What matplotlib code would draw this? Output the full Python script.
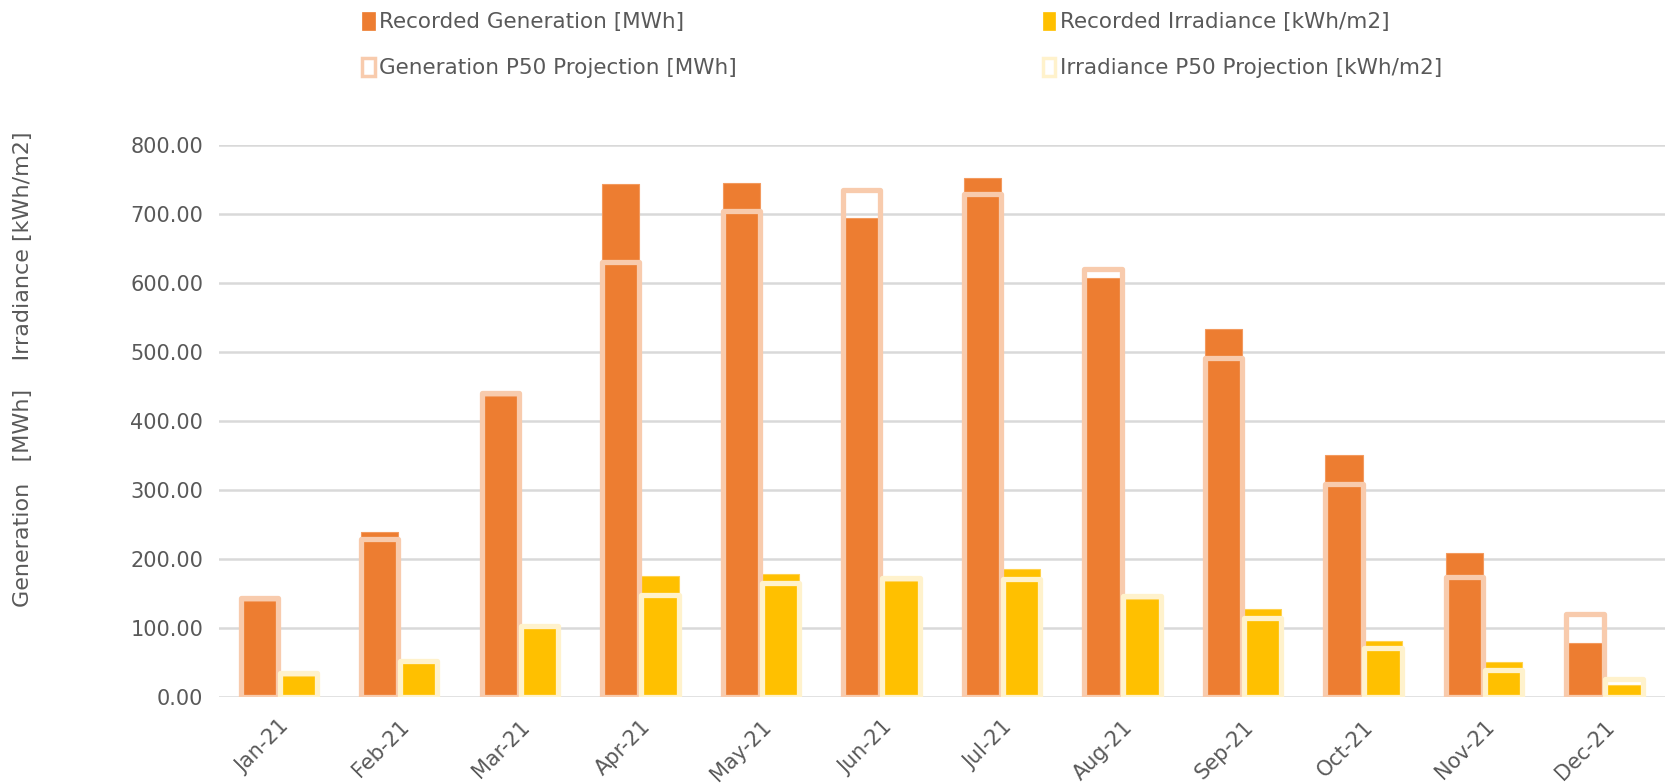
import matplotlib
matplotlib.use("Agg")
from matplotlib import pyplot as plt
from matplotlib.patches import Patch
import numpy as np

plt.rcParams['font.family'] = ['DejaVu Sans']

months = ['Jan-21', 'Feb-21', 'Mar-21', 'Apr-21', 'May-21', 'Jun-21',
          'Jul-21', 'Aug-21', 'Sep-21', 'Oct-21', 'Nov-21', 'Dec-21']

# Monthly generation [MWh]: recorded vs P50 projection
gen_recorded = [140, 239, 437, 744, 746, 694, 753, 607, 534, 351, 209, 78]
gen_p50 = [144, 230, 441, 631, 705, 735, 729, 620, 491, 309, 174, 120]

# Monthly irradiance [kWh/m2]: recorded vs P50 projection
irr_recorded = [31, 50, 100, 176, 178, 168, 186, 143, 128, 81, 51, 18]
irr_p50 = [35, 53, 103, 148, 165, 173, 172, 147, 115, 72, 39, 27]

gen_color = '#ED7D31'
irr_color = '#FFC000'
gen_p50_color = '#F8CBAD'
irr_p50_color = '#FFF2CC'
text_color = '#595959'
grid_color = '#D9D9D9'

fig = plt.figure(figsize=(16.68, 7.83), dpi=100)
ax = fig.add_axes([0.131, 0.1095, 0.867, 0.705])

x = np.arange(len(months))
width = 0.31
offset = 0.162

# recorded values as solid bars
ax.bar(x - offset, gen_recorded, width, color=gen_color,
       edgecolor='#F39A5E', linewidth=0.8, zorder=2)
ax.bar(x + offset, irr_recorded, width, color=irr_color,
       edgecolor='#FFD24D', linewidth=0.8, zorder=2)

# projections drawn on top as hollow outlines
ax.bar(x - offset, gen_p50, width, fill=False, edgecolor=gen_p50_color,
       linewidth=3.8, joinstyle='round', zorder=3)
ax.bar(x + offset, irr_p50, width, fill=False, edgecolor=irr_p50_color,
       linewidth=3.8, joinstyle='round', zorder=3)

ax.set_xlim(-0.5, len(months) - 0.5)
ax.set_ylim(0, 800)
ax.set_yticks(np.arange(0, 801, 100))
ax.yaxis.set_major_formatter(matplotlib.ticker.FuncFormatter(lambda v, p: f'{v:.2f}'))
ax.grid(axis='y', color=grid_color, linewidth=1.8, zorder=0)
ax.set_axisbelow(True)

ax.set_xticks(x)
ax.set_xticklabels(months, rotation=45, ha='right', rotation_mode='anchor')
ax.tick_params(axis='both', length=0, colors=text_color, labelsize=15)
ax.tick_params(axis='y', pad=11)
ax.tick_params(axis='x', pad=14)

for side in ['top', 'right', 'left', 'bottom']:
    ax.spines[side].set_visible(False)

fig.text(23 / 1668, 1 - 369 / 783,
         'Generation   [MWh]    Irradiance [kWh/m2]',
         rotation=90, ha='center', va='center', color=text_color, fontsize=16)

handles = [
    Patch(facecolor=gen_color, edgecolor=gen_color, linewidth=0.5),
    Patch(facecolor='white', edgecolor=gen_p50_color, linewidth=2.5),
    Patch(facecolor=irr_color, edgecolor=irr_color, linewidth=0.5),
    Patch(facecolor='white', edgecolor=irr_p50_color, linewidth=2.5),
]
labels = ['Recorded Generation [MWh]', 'Generation P50 Projection [MWh]',
          'Recorded Irradiance [kWh/m2]', 'Irradiance P50 Projection [kWh/m2]']
fig.legend(handles, labels, ncol=2, loc='upper left',
           bbox_to_anchor=(350 / 1668, 1.0), frameon=False,
           fontsize=15.5, labelcolor=text_color,
           handlelength=0.6, handleheight=0.9, handletextpad=0.2,
           columnspacing=14.2, labelspacing=1.2, borderaxespad=0.15)

fig.savefig('out.png', dpi=100)
